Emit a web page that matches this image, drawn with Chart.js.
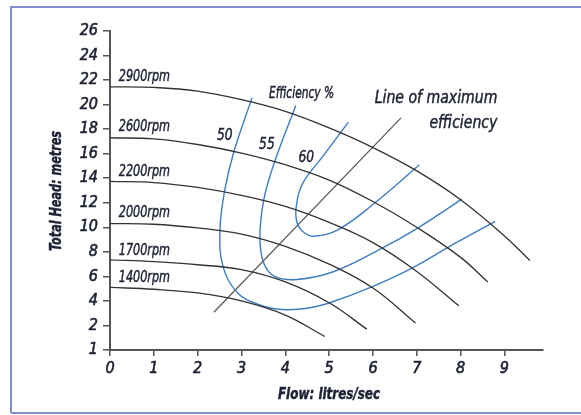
<!DOCTYPE html>
<html>
<head>
<meta charset="utf-8">
<script src="https://cdn.jsdelivr.net/npm/chart.js@4.4.1/dist/chart.umd.min.js"></script>
<style>
  body { margin: 0; background: #fff; }
  #wrap { width: 581px; height: 415px; }
</style>
</head>
<body>
<div id="wrap"><canvas id="myChart" width="581" height="415"></canvas></div>
<script>
// head curves (flow l/s, head m)
const rpm2900 = [[0, 21.45], [1, 21.4], [2, 21.1], [3, 20.4], [4, 19.45], [5, 18.1], [6, 16.5], [7, 14.6], [8, 12.25], [9, 9.3], [9.58, 7.3]];
const rpm2600 = [[0, 17.3], [1, 17.2], [2, 16.75], [3, 16.05], [4, 15.1], [5, 13.85], [6, 12.1], [7, 10.0], [8, 7.55], [8.62, 5.55]];
const rpm2200 = [[0, 13.75], [1, 13.65], [2, 13.25], [3, 12.6], [4, 11.7], [5, 10.4], [6, 8.75], [7, 6.4], [7.96, 3.6]];
const rpm2000 = [[0, 10.3], [1, 10.25], [2, 9.95], [3, 9.45], [4, 8.45], [5, 7.0], [6, 5.05], [6.97, 2.2]];
const rpm1700 = [[0, 7.35], [1, 7.2], [2, 6.95], [3, 6.55], [4, 5.55], [5, 3.85], [5.86, 1.7]];
const rpm1400 = [[0, 5.1], [1, 4.95], [2, 4.65], [3, 4.0], [4, 2.85], [4.9, 1.1]];

// efficiency contours
const eff50 = [[3.24, 20.55], [2.83, 16.2], [2.62, 13.07], [2.51, 9.8], [2.58, 6.8], [2.92, 4.63], [3.42, 3.67], [3.93, 3.3], [4.5, 3.4], [5.03, 3.87], [5.96, 5.12], [6.89, 6.67], [7.82, 8.58], [8.79, 10.48]];
const eff55 = [[4.24, 19.93], [3.76, 15.38], [3.51, 12.25], [3.42, 9.12], [3.51, 7.08], [3.76, 6.0], [4.27, 5.75], [5.11, 6.4], [6.21, 8.3], [7.02, 9.94], [8.03, 12.3]];
const eff60 = [[5.44, 18.57], [4.86, 15.8], [4.4, 13.6], [4.25, 11.7], [4.27, 10.35], [4.44, 9.53], [4.65, 9.28], [5.2, 9.8], [6.04, 11.98], [7.06, 15.1]];

const maxEffLine = [[2.37, 3.08], [6.64, 18.92]];

// text labels [text, flow, head]
const rpmLabels = [['2900rpm', 0.2, 22.27], ['2600rpm', 0.2, 18.2], ['2200rpm', 0.2, 14.5], ['2000rpm', 0.2, 11.16], ['1700rpm', 0.2, 8.09], ['1400rpm', 0.2, 5.86]];
const effLabels = [['50', 2.62, 17.48], ['55', 3.58, 16.74], ['60', 4.48, 15.7]];

const xTicks = [0, 1, 2, 3, 4, 5, 6, 7, 8, 9];
const yTicks = [0, 2, 4, 6, 8, 10, 12, 14, 16, 18, 20, 22, 24, 26];
const yTickLabels = ['1', '2', '4', '6', '8', '10', '12', '14', '16', '18', '20', '22', '24', '26'];

const FONT = "'DejaVu Sans Condensed', 'DejaVu Sans', sans-serif";
const TEXT = '#1e2235';
const BLACK = '#333';
const BLUE = '#3d7cc2';

function toPts(arr) {
    return arr.map(p => ({ x: p[0], y: p[1] }));
}

function lineSet(arr, color, width, tension) {
    return {
        data: toPts(arr),
        showLine: true,
        borderColor: color,
        borderWidth: width,
        pointRadius: 0,
        tension: tension,
        fill: false
    };
}

// narrow, slightly heavier text, like the condensed face of the original
function squeezed(ctx, text, x, y, sx, rot) {
    ctx.save();
    ctx.translate(x, y);
    if (rot) ctx.rotate(rot);
    ctx.scale(sx, 1);
    ctx.fillText(text, 0, 0);
    ctx.strokeText(text, 0, 0);
    ctx.restore();
}

const labelPlugin = {
    id: 'labels',
    beforeDraw(chart) {
        const ctx = chart.ctx;
        ctx.save();
        ctx.strokeStyle = '#7f8ecb';
        ctx.lineWidth = 2;
        ctx.beginPath();
        ctx.moveTo(11, 413);
        ctx.lineTo(11, 7);
        ctx.lineTo(590, 7);
        ctx.moveTo(11, 413);
        ctx.lineTo(590, 413);
        ctx.stroke();
        ctx.restore();
    },
    afterDatasetsDraw(chart) {
        const ctx = chart.ctx;
        const xs = chart.scales.x;
        const ys = chart.scales.y;
        const X = v => xs.getPixelForValue(v);
        const Y = v => ys.getPixelForValue(v);
        ctx.save();
        ctx.fillStyle = TEXT;
        ctx.strokeStyle = TEXT;
        ctx.lineWidth = 0.45;
        ctx.textBaseline = 'middle';

        ctx.font = 'italic 16px ' + FONT;
        ctx.textAlign = 'left';
        rpmLabels.forEach(l => squeezed(ctx, l[0], X(l[1]), Y(l[2]), 0.78));
        ctx.textAlign = 'center';
        effLabels.forEach(l => squeezed(ctx, l[0], X(l[1]), Y(l[2]), 0.85));

        ctx.font = 'italic 15px ' + FONT;
        squeezed(ctx, 'Efficiency %', X(4.37), Y(20.88), 0.79);

        ctx.font = 'italic 17px ' + FONT;
        ctx.textAlign = 'right';
        squeezed(ctx, 'Line of maximum', X(8.84), Y(20.5), 0.92);
        squeezed(ctx, 'efficiency', X(8.84), Y(18.45), 0.92);

        // axis titles
        ctx.font = 'italic bold 16px ' + FONT;
        ctx.textAlign = 'center';
        squeezed(ctx, 'Flow: litres/sec', 329, 395, 0.83);
        squeezed(ctx, 'Total Head: metres', 57, 191, 0.78, -Math.PI / 2);
        ctx.restore();
    }
};

const ctx = document.getElementById('myChart').getContext('2d');
new Chart(ctx, {
    type: 'scatter',
    data: {
        datasets: [
            lineSet(rpm2900, BLACK, 1.3, 0.4),
            lineSet(rpm2600, BLACK, 1.3, 0.4),
            lineSet(rpm2200, BLACK, 1.3, 0.4),
            lineSet(rpm2000, BLACK, 1.3, 0.4),
            lineSet(rpm1700, BLACK, 1.3, 0.4),
            lineSet(rpm1400, BLACK, 1.3, 0.4),
            lineSet(eff50, BLUE, 1.4, 0.4),
            lineSet(eff55, BLUE, 1.4, 0.4),
            lineSet(eff60, BLUE, 1.4, 0.4),
            lineSet(maxEffLine, '#555', 1.2, 0)
        ]
    },
    options: {
        responsive: false,
        animation: false,
        layout: { padding: { top: 31, right: 38, left: 0, bottom: 0 } },
        plugins: {
            legend: { display: false },
            tooltip: { enabled: false }
        },
        scales: {
            x: {
                type: 'linear',
                min: 0,
                max: 9.88,
                afterBuildTicks: s => { s.ticks = xTicks.map(v => ({ value: v })); },
                afterFit: s => { s.height = 65; },
                grid: { display: true, drawOnChartArea: false, drawTicks: true, tickLength: 6, color: '#555', lineWidth: 1.5 },
                border: { display: true, color: '#555', width: 2 },
                ticks: {
                    color: TEXT, padding: 3, maxRotation: 0,
                    textStrokeColor: TEXT, textStrokeWidth: 0.6,
                    font: { family: FONT, size: 16, style: 'italic' }
                }
            },
            y: {
                type: 'linear',
                min: 0,
                max: 26,
                afterBuildTicks: s => { s.ticks = yTicks.map(v => ({ value: v })); },
                afterFit: s => { s.width = 110; },
                grid: { display: true, drawOnChartArea: false, drawTicks: true, tickLength: 7, color: '#555', lineWidth: 1.5 },
                border: { display: true, color: '#555', width: 2 },
                ticks: {
                    color: TEXT, padding: 5,
                    textStrokeColor: TEXT, textStrokeWidth: 0.6,
                    font: { family: FONT, size: 16, style: 'italic' },
                    callback: (v) => yTickLabels[yTicks.indexOf(v)]
                }
            }
        }
    },
    plugins: [labelPlugin]
});
</script>
</body>
</html>
